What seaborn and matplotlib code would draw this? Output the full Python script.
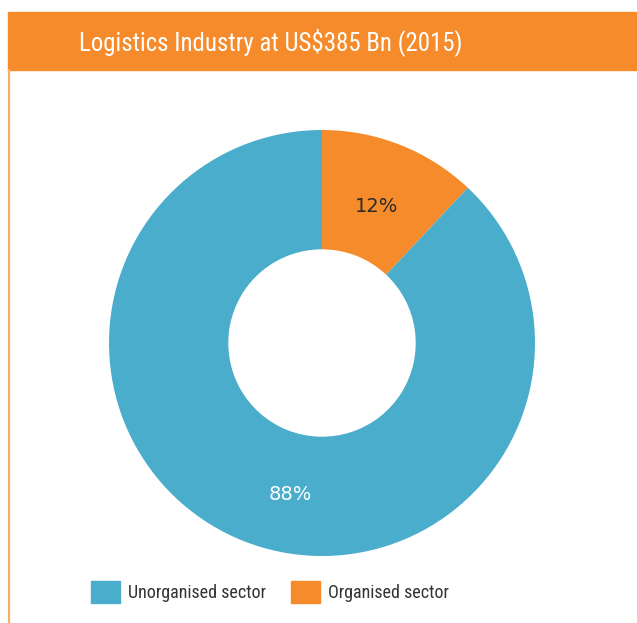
import matplotlib
matplotlib.use("Agg")
import matplotlib.pyplot as plt
from matplotlib import font_manager as fm
from matplotlib.patches import Rectangle, Patch
from matplotlib.lines import Line2D
import numpy as np
import seaborn as sns

# ---- data ----
title = "Logistics Industry at US$385 Bn (2015)"
sectors = ["Organised sector", "Unorganised sector"]
shares = [12, 88]
colors = ["#F58B2B", "#4AADCB"]
label_colors = ["#2B2B2B", "white"]

sns.set_theme(style="white")


# the original uses a narrow face; take the narrowest one installed
def pick_narrow():
    narrow = []
    for f in fm.fontManager.ttflist:
        st = f.stretch
        is_narrow = ("Narrow" in f.name or "Condensed" in f.name
                     or st in ("condensed", "semi-condensed", "extra-condensed")
                     or (isinstance(st, int) and st < 500))
        if is_narrow and f.style == "normal" and f.weight in (400, "normal", "regular"):
            narrow.append(f)
    for key in ["Liberation Sans Narrow", "Roboto Condensed", "Open Sans Condensed", "DejaVu Sans"]:
        for f in narrow:
            if f.name.startswith(key):
                return f.fname
    if narrow:
        return narrow[0].fname
    return fm.findfont("Liberation Sans")


font_file = pick_narrow()

W, H = 637, 623
fig = plt.figure(figsize=(W / 100, H / 100), dpi=100)
fig.patch.set_facecolor("white")
renderer = fig.canvas.get_renderer()


def fit_size(text, max_size, target_px):
    # shrink the font until the string is about as wide as in the original
    fp = fm.FontProperties(fname=font_file, size=max_size)
    t = fig.text(0, 0, text, fontproperties=fp)
    w = t.get_window_extent(renderer).width
    t.remove()
    return min(max_size, max_size * target_px / w)


# header bar and left rule
fig.patches.append(Rectangle((8 / W, 1 - 70 / H), 1 - 8 / W, 58 / H,
                             transform=fig.transFigure, color="#F58B2B", zorder=0))
fig.lines.append(Line2D([9 / W, 9 / W], [0, 1 - 70 / H], transform=fig.transFigure,
                        color="#F7B06A", lw=1.6))
title_fp = fm.FontProperties(fname=font_file, size=fit_size(title, 20, 383))
fig.text(271 / W, 1 - 42 / H, title, color="white", fontproperties=title_fp,
         ha="center", va="center")

# donut
cx, cy, r = 322, H - 343, 213
ax = fig.add_axes([(cx - r) / W, (cy - r) / H, 2 * r / W, 2 * r / H])
wedges, texts, autotexts = ax.pie(
    shares, colors=colors, startangle=90, counterclock=False,
    autopct="%d%%", pctdistance=0.69,
    wedgeprops=dict(width=0.56, linewidth=0),
    textprops=dict(fontsize=14, family=["DejaVu Sans"]))
for t, c in zip(autotexts, label_colors):
    t.set_color(c)
# the 88% label sits a bit right of its wedge middle
ang = np.deg2rad(-102)
autotexts[1].set_position((0.725 * np.cos(ang), 0.725 * np.sin(ang)))
ax.set_xlim(-1, 1)
ax.set_ylim(-1, 1)
ax.axis("off")

# legend: unorganised first
leg_size = fit_size(sectors[1], 15, 139)
handles = [Patch(color=colors[1]), Patch(color=colors[0])]
fig.legend(handles, [sectors[1], sectors[0]], loc="center",
           bbox_to_anchor=(270 / W, 1 - 592 / H), ncol=2, frameon=False,
           prop=fm.FontProperties(fname=font_file, size=leg_size),
           labelcolor="#333333",
           handlelength=29 / (leg_size * 100 / 72), handleheight=27 / (leg_size * 100 / 72),
           handletextpad=8 / (leg_size * 100 / 72),
           columnspacing=25 / (leg_size * 100 / 72))

fig.savefig("out.png", dpi=100)
